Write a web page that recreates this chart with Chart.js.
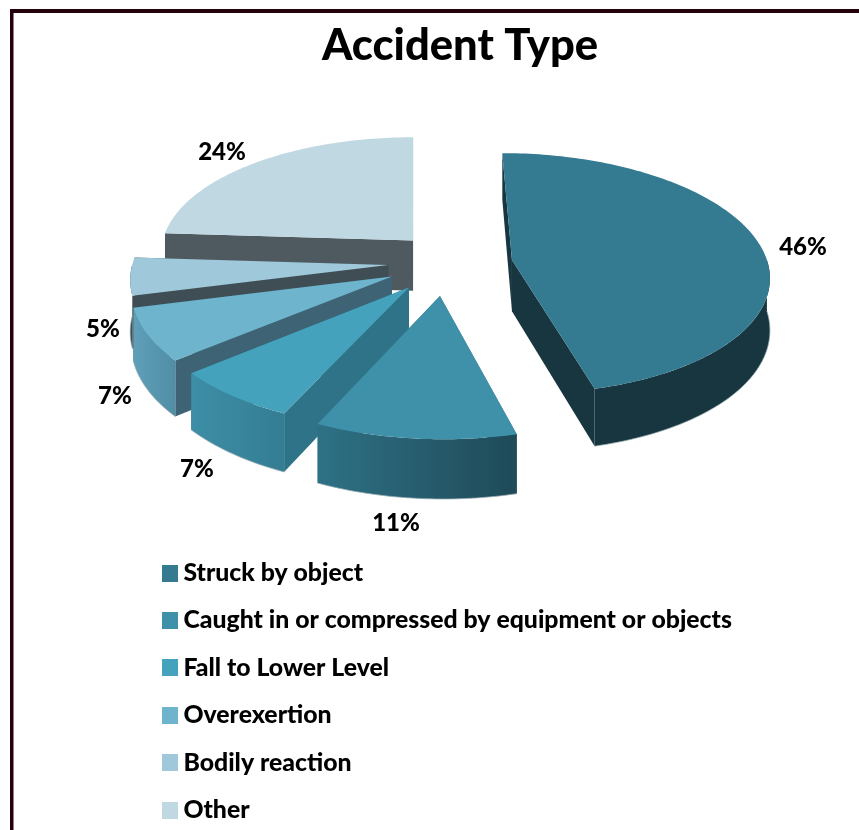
<!DOCTYPE html>
<html><head><meta charset="utf-8">
<style>html,body{margin:0;padding:0;background:#fff}#w{width:859px;height:830px;filter:blur(.6px)}canvas{display:block}</style>
<script src="https://cdn.jsdelivr.net/npm/chart.js@4"></script>
</head><body><div id="w"><canvas id="c" width="859" height="830"></canvas></div>
<script>
const categories = ['Struck by object','Caught in or compressed by equipment or objects','Fall to Lower Level','Overexertion','Bodily reaction','Other'];
const percentValues = [46,11,7,7,5,24];
const sliceColors = ['#347a91','#3e91a9','#44a2bc','#6eb4cd','#9fc8da','#bfd8e2'];
// Pie explosion of each slice, in the tilted plane of the pie
const explodeX = [98.5,24.5,-6,-23,-27,-2];
const explodeY = [-36.5,39.5,22,-1,-25.6,-80];
// 3D look
const sideLeft  = ['#17363f','#2e7185','#3d8ea7','#5f9fb8','#3f4e55','#a9c3cc'];
const sideRight = ['#17363f','#1f4a58','#347d93','#508ea6','#3f4e55','#a9c3cc'];
const faceStart = ['#17363f','#2e7185','#2f7388','#3d6374','#3f4e55','#4f5a60'];
const faceEnd   = ['#17363f','#2e7185','#2f7388','#3d6374','#3f4e55','#a9c3cc'];
const labelX = [803,396,197,115,103,222];
const labelY = [247,523,469,396,329,152];
const drawOrder = [5,4,3,2,1,0];
const view = {cx:415, cy:277, tilt:0.473, focal:2300, depth:52};
const FONT = 'Lato, Carlito, "Open Sans", sans-serif';

function project(X,Y){
  const s = 1/(1-Y/view.focal);
  return {x:view.cx+X*s, y:view.cy+Y*view.tilt*s, s};
}
function arcPoints(i,a0,a1,r){
  const pts=[], n=Math.max(4,Math.ceil((a1-a0)/0.02));
  for(let k=0;k<=n;k++){
    const a=a0+(a1-a0)*k/n;                 // chart angle, -PI/2 is 12 o'clock
    pts.push(project(explodeX[i]+r*Math.cos(a), explodeY[i]+r*Math.sin(a)));
  }
  return pts;
}
function poly(ctx,pts){ctx.beginPath();pts.forEach((p,k)=>k?ctx.lineTo(p.x,p.y):ctx.moveTo(p.x,p.y));ctx.closePath();}
function drop(p){return {x:p.x,y:p.y+view.depth*p.s};}

const pie3d = {
  id:'pie3d',
  afterLayout(chart){
    const l=chart.legend;
    l.top=538; l.bottom=900; l.right=859;
  },
  beforeDraw(chart){
    const c=chart.ctx;
    c.save();c.fillStyle='#fff';c.fillRect(0,0,859,830);
    c.fillStyle='#26000a';c.fillRect(10,9,849,4);c.fillRect(10,9,3.5,821);
    c.restore();
  },
  beforeDatasetDraw(){return false;},
  afterDatasetsDraw(chart){
    const c=chart.ctx, meta=chart.getDatasetMeta(0);
    c.save();
    drawOrder.forEach(i=>{
      const el=meta.data[i].getProps(['startAngle','endAngle','outerRadius']);
      const rim=arcPoints(i,el.startAngle,el.endAngle,el.outerRadius);
      const apex=project(explodeX[i],explodeY[i]);
      const first=rim[0], last=rim[rim.length-1];
      // cut faces
      c.fillStyle=faceStart[i];poly(c,[apex,first,drop(first),drop(apex)]);c.fill();
      c.fillStyle=faceEnd[i];poly(c,[apex,last,drop(last),drop(apex)]);c.fill();
      // outer wall, only the part that faces the viewer
      const w0=Math.max(el.startAngle,0), w1=Math.min(el.endAngle,Math.PI);
      if(w1>w0){
        const front=arcPoints(i,w0,w1,el.outerRadius);
        const xs=front.map(p=>p.x), g=c.createLinearGradient(Math.min(...xs),0,Math.max(...xs),0);
        g.addColorStop(0,sideLeft[i]);g.addColorStop(1,sideRight[i]);
        const low=front.map(drop);
        c.fillStyle=g;poly(c,front.concat(low.slice().reverse()));c.fill();
        c.strokeStyle='rgba(150,172,178,.75)';c.lineWidth=1;
        c.beginPath();low.forEach((p,k)=>k?c.lineTo(p.x,p.y):c.moveTo(p.x,p.y));c.stroke();
      }
      // top
      c.fillStyle=sliceColors[i];poly(c,[apex].concat(rim));c.fill();
    });
    // value labels
    c.fillStyle='#000';c.font='900 24px '+FONT;c.textAlign='center';c.textBaseline='middle';
    percentValues.forEach((v,i)=>c.fillText(v+'%',labelX[i],labelY[i]));
    c.restore();
  }
};

function swatch(color){
  const s=document.createElement('canvas');s.width=16;s.height=17;
  const x=s.getContext('2d');x.fillStyle=color;x.fillRect(0,0,16,17);return s;
}

new Chart(document.getElementById('c'),{
  type:'pie',
  data:{labels:categories,datasets:[{data:percentValues,backgroundColor:sliceColors,borderWidth:0,radius:259}]},
  plugins:[pie3d],
  options:{
    responsive:false,animation:false,
    layout:{padding:{left:146.4,right:85.4,top:20,bottom:9}},
    plugins:{
      tooltip:{enabled:false},
      title:{display:true,text:'Accident Type',color:'#000',font:{family:FONT,size:43.5,weight:'900'},padding:0},
      legend:{display:true,position:'left',align:'start',
        labels:{color:'#000',font:{family:FONT,size:24.8,weight:'900'},padding:22.6,usePointStyle:true,pointStyleWidth:2,boxHeight:17,
          generateLabels(chart){
            return Chart.overrides.pie.plugins.legend.labels.generateLabels(chart)
              .map((l,i)=>Object.assign(l,{pointStyle:swatch(sliceColors[i])}));
          }}}
    }
  }
});
</script></body></html>
